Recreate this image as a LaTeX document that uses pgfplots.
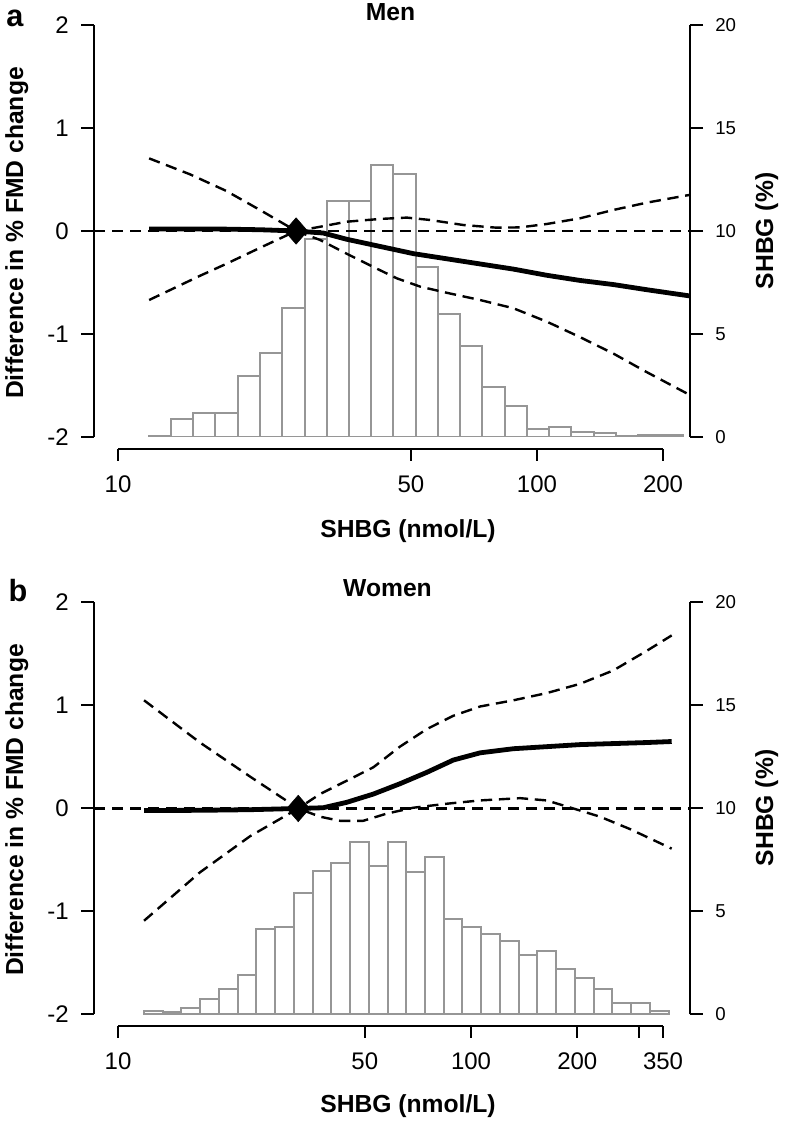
\documentclass[border=0pt]{standalone}
\usepackage{fontspec}
\setmainfont{Liberation Sans}
\usepackage{pgfplots}
\pgfplotsset{compat=1.18}
\definecolor{bargray}{RGB}{150,150,150}
\tikzset{
  cidash/.style={black, line width=1.8pt, dash pattern=on 8.5pt off 5pt},
  fitline/.style={black, line width=3.6pt},
  lbl/.style={font=\bfseries\fontsize{18.5}{18.5}\selectfont, inner sep=0pt},
  barsty/.style={draw=bargray, fill=white, line width=1.5pt},
}
\begin{document}
\begin{tikzpicture}[x=0.75pt, y=0.75pt]
\path[use as bounding box] (0,0) rectangle (788,1121);

% ---------------- Panel a: Men ----------------
\begin{axis}[at={(70.5pt,513pt)}, anchor=south west, scale only axis, width=447pt, height=309pt,
  xmode=log, xmin=8.76, xmax=231.8, ymin=0, ymax=20,
  axis x line=none, axis y line*=right,
  tick align=outside, major tick length=9.75pt,
  axis line style={line width=1.5pt}, tick style={black, line width=1.5pt},
  ytick={0,5,10,15,20}, yticklabels={0,5,10,15,20}, minor ytick={},
  yticklabel style={font=\fontsize{14}{14}\selectfont, inner sep=0pt, anchor=west, xshift=9pt}]
\addplot[ybar interval, barsty] coordinates {
(11.84,0.06) (13.38,0.89) (15.12,1.15) (17.08,1.18) (19.31,2.96) (21.82,4.06)
(24.65,6.25) (27.86,9.6) (31.48,11.47) (35.57,11.47) (40.20,13.2) (45.43,12.78)
(51.33,8.27) (58.01,5.97) (65.55,4.43) (74.08,2.44) (83.71,1.5) (94.60,0.37)
(106.9,0.5) (120.8,0.24) (136.5,0.19) (154.3,0.03) (174.3,0.08) (197.0,0.08)
(222.6,0.08)};
\end{axis}
\begin{axis}[at={(70.5pt,513pt)}, anchor=south west, scale only axis, width=447pt, height=309pt,
  xmode=log, xmin=8.76, xmax=231.8, ymin=-2, ymax=2,
  axis x line=none, axis y line*=left, clip=false,
  tick align=outside, major tick length=9.75pt,
  axis line style={line width=1.5pt}, tick style={black, line width=1.5pt},
  ytick={-2,-1,0,1,2}, yticklabels={-2,-1,0,1,2}, minor ytick={},
  yticklabel style={font=\fontsize{18}{18}\selectfont, inner sep=0pt, anchor=east, xshift=-9pt}]
\addplot[cidash] coordinates {(8.76,0) (231.8,0)};
\addplot[cidash] coordinates {
(11.86,0.705) (14.85,0.55) (18.1,0.39) (21.9,0.2) (26.6,0) (29.8,0.035) (35.1,0.09) (42.2,0.117)
(48.9,0.13) (55.5,0.107) (66.7,0.058) (80.1,0.032) (91.1,0.035) (105.5,0.068)
(126.6,0.123) (152.1,0.204) (182.7,0.275) (231,0.35)};
\addplot[cidash] coordinates {
(11.86,-0.67) (15.78,-0.43) (18.1,-0.32) (21.9,-0.16) (26.6,0) (30.35,-0.087) (35.1,-0.22) (40.7,-0.35)
(46.3,-0.46) (52.6,-0.54) (60.9,-0.60) (73.1,-0.67) (87.8,-0.75) (105.5,-0.88)
(126.6,-1.03) (152.1,-1.19) (182.7,-1.37) (231,-1.59)};
\addplot[fitline] coordinates {
(11.86,0.02) (14.85,0.02) (18.1,0.018) (21.9,0.012) (26.6,0) (30.9,-0.02)
(35.1,-0.08) (42.2,-0.15) (50.7,-0.22) (60.9,-0.27) (73.1,-0.32) (87.8,-0.37)
(105.5,-0.43) (126.6,-0.48) (152.1,-0.52) (182.7,-0.57) (231,-0.63)};
\addplot[only marks, mark=square*, mark size=6.1pt,
  mark options={fill=black, draw=black, yscale=1.15, rotate=45}] coordinates {(26.6,0)};
\end{axis}
\begin{axis}[at={(88.5pt,504pt)}, anchor=south west, scale only axis, width=408.8pt, height=10pt,
  xmode=log, xmin=10, xmax=200, ymin=0, ymax=1,
  axis x line*=bottom, axis y line=none,
  tick align=outside, major tick length=9pt,
  axis line style={line width=1.5pt}, tick style={black, line width=1.5pt},
  xtick={10,50,100,200}, xticklabels={10,50,100,200}, minor xtick={},
  xticklabel style={font=\fontsize{18}{18}\selectfont, inner sep=0pt, anchor=north, yshift=-11pt}]
\addplot[draw=none] coordinates {(10,0.5)};
\end{axis}

% ---------------- Panel b: Women ----------------
\begin{axis}[at={(70.5pt,79.9pt)}, anchor=south west, scale only axis, width=447pt, height=309pt,
  xmode=log, xmin=8.55, xmax=417.3, ymin=0, ymax=20,
  axis x line=none, axis y line*=right,
  tick align=outside, major tick length=9.75pt,
  axis line style={line width=1.5pt}, tick style={black, line width=1.5pt},
  ytick={0,5,10,15,20}, yticklabels={0,5,10,15,20}, minor ytick={},
  yticklabel style={font=\fontsize{14}{14}\selectfont, inner sep=0pt, anchor=west, xshift=9pt}]
\addplot[ybar interval, barsty] coordinates {
(11.84,0.16) (13.38,0.11) (15.12,0.29) (17.08,0.76) (19.31,1.25) (21.82,1.91)
(24.65,4.13) (27.86,4.24) (31.48,5.91) (35.57,6.96) (40.20,7.35) (45.43,8.37)
(51.33,7.2) (58.01,8.37) (65.55,6.93) (74.08,7.65) (83.71,4.61) (94.60,4.26)
(106.9,3.92) (120.8,3.59) (136.5,2.91) (154.3,3.07) (174.3,2.23) (197.0,1.78)
(222.6,1.26) (251.6,0.58) (284.3,0.58) (321.3,0.19) (363.1,0.19)};
\end{axis}
\begin{axis}[at={(70.5pt,79.9pt)}, anchor=south west, scale only axis, width=447pt, height=309pt,
  xmode=log, xmin=8.55, xmax=417.3, ymin=-2, ymax=2,
  axis x line=none, axis y line*=left, clip=false,
  tick align=outside, major tick length=9.75pt,
  axis line style={line width=1.5pt}, tick style={black, line width=1.5pt},
  ytick={-2,-1,0,1,2}, yticklabels={-2,-1,0,1,2}, minor ytick={},
  yticklabel style={font=\fontsize{18}{18}\selectfont, inner sep=0pt, anchor=east, xshift=-9pt}]
\addplot[cidash] coordinates {(8.55,0) (417.3,0)};
\addplot[cidash] coordinates {
(11.85,1.05) (17.07,0.64) (23.65,0.31) (32.4,0) (37.35,0.14) (44.5,0.27)
(52.9,0.40) (62.9,0.60) (74.9,0.77) (89.1,0.90) (106.1,0.99) (131.8,1.05)
(163.8,1.12) (203.7,1.21) (253,1.34) (314.6,1.53) (370.3,1.68)};
\addplot[cidash] coordinates {
(11.85,-1.09) (17.07,-0.62) (23.65,-0.27) (32.4,0) (37.35,-0.08) (42.6,-0.12)
(49.5,-0.12) (57.7,-0.05) (68.6,0.007) (85.4,0.046) (106.1,0.078) (137.7,0.10)
(163.8,0.078) (194.9,0) (232,-0.08) (282.1,-0.20) (370.3,-0.39)};
\addplot[fitline] coordinates {
(11.85,-0.02) (17.07,-0.018) (23.65,-0.012) (32.4,0) (38.15,0.007) (44.5,0.06)
(52.9,0.14) (62.9,0.24) (74.9,0.35) (89.1,0.47) (106.1,0.54) (131.8,0.58)
(163.8,0.60) (203.7,0.62) (253,0.63) (314.6,0.64) (370.3,0.65)};
\addplot[only marks, mark=square*, mark size=6.1pt,
  mark options={fill=black, draw=black, yscale=1.15, rotate=45}] coordinates {(32.4,0)};
\end{axis}
\begin{axis}[at={(88.5pt,71.5pt)}, anchor=south west, scale only axis, width=408.8pt, height=10pt,
  xmode=log, xmin=10, xmax=350, ymin=0, ymax=1,
  axis x line*=bottom, axis y line=none,
  tick align=outside, major tick length=9pt,
  axis line style={line width=1.5pt}, tick style={black, line width=1.5pt},
  xtick={10,50,100,200,300,350}, xticklabels={10,50,100,200,,350}, minor xtick={},
  xticklabel style={font=\fontsize{18}{18}\selectfont, inner sep=0pt, anchor=north, yshift=-11pt}]
\addplot[draw=none] coordinates {(10,0.5)};
\end{axis}

% ---------------- Text ----------------
\node[font=\bfseries\fontsize{23}{23}\selectfont, inner sep=0pt, anchor=base] at (15,1094) {a};
\node[font=\bfseries\fontsize{23}{23}\selectfont, inner sep=0pt, anchor=base] at (18,519) {b};
\node[lbl, anchor=base] at (390.5,1100) {Men};
\node[lbl, anchor=base] at (387.5,524) {Women};
\node[lbl, anchor=base, rotate=90] at (23,888) {Difference in \% FMD change};
\node[lbl, anchor=base, rotate=90] at (23,311) {Difference in \% FMD change};
\node[lbl, anchor=base, rotate=90] at (773,890) {SHBG (\%)};
\node[lbl, anchor=base, rotate=90] at (773,313) {SHBG (\%)};
\node[lbl, anchor=base] at (408,583) {SHBG (nmol/L)};
\node[lbl, anchor=base] at (408,8) {SHBG (nmol/L)};
\end{tikzpicture}
\end{document}
